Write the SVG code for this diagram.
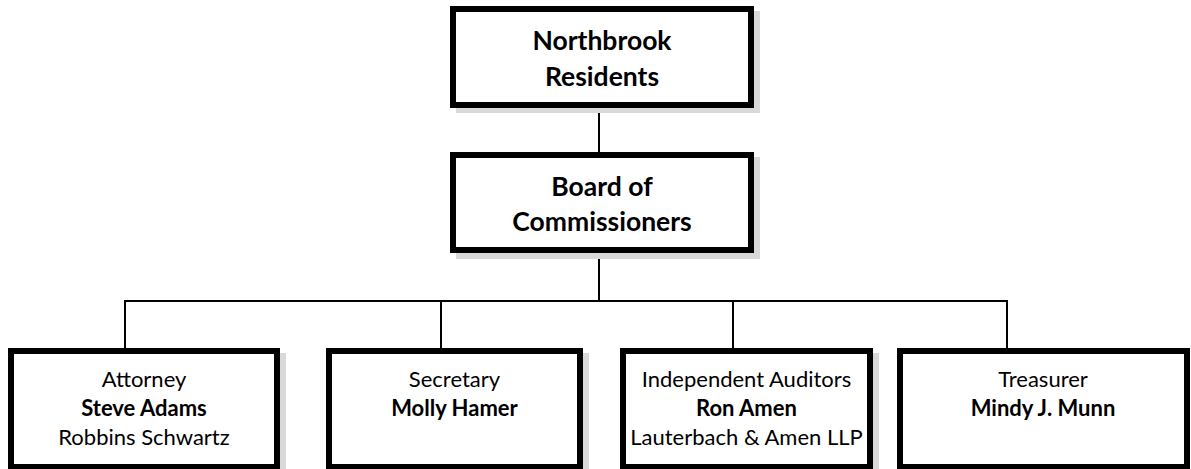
<svg xmlns="http://www.w3.org/2000/svg" width="1191" height="469" viewBox="0 0 1191 469">
<style>
.box{fill:#fff;stroke:#000;stroke-width:6}
.shadow{fill:#d9d9d9}
.conn{stroke:#000;stroke-width:2;fill:none}
text{font-family:Lato,"Open Sans","Liberation Sans",sans-serif;text-anchor:middle;fill:#000}
.t{font-size:26.5px;font-weight:bold}
.r{font-size:22px}
.b{font-size:22px;font-weight:bold}
</style>
<rect width="1191" height="469" fill="#fff"/>
<g id="connectors">
<line class="conn" x1="599" y1="108" x2="599" y2="152"/>
<line class="conn" x1="599" y1="253" x2="599" y2="301"/>
<line class="conn" x1="124" y1="301" x2="1008" y2="301"/>
<line class="conn" x1="125" y1="301" x2="125" y2="348"/>
<line class="conn" x1="441" y1="301" x2="441" y2="348"/>
<line class="conn" x1="733" y1="301" x2="733" y2="348"/>
<line class="conn" x1="1007" y1="301" x2="1007" y2="348"/>
</g>
<g id="residents">
<rect class="shadow" x="456" y="11" width="304" height="102"/>
<rect class="box" x="453" y="9" width="298" height="96"/>
<text class="t" x="602" y="50">Northbrook</text>
<text class="t" x="602" y="86">Residents</text>
</g>
<g id="board">
<rect class="shadow" x="456" y="157" width="304" height="102"/>
<rect class="box" x="453" y="155" width="298" height="95"/>
<text class="t" x="602" y="196">Board of</text>
<text class="t" x="602" y="231">Commissioners</text>
</g>
<g id="attorney">
<rect class="shadow" x="14" y="353" width="272" height="122"/>
<rect class="box" x="11" y="351" width="266" height="116"/>
<text class="r" x="144" y="387">Attorney</text>
<text class="b" x="144" y="416">Steve Adams</text>
<text class="r" x="144" y="445">Robbins Schwartz</text>
</g>
<g id="secretary">
<rect class="shadow" x="332" y="353" width="257" height="122"/>
<rect class="box" x="329" y="351" width="251" height="116"/>
<text class="r" x="454.5" y="387">Secretary</text>
<text class="b" x="454.5" y="416">Molly Hamer</text>
</g>
<g id="auditors">
<rect class="shadow" x="626" y="353" width="253" height="122"/>
<rect class="box" x="623" y="351" width="247" height="116"/>
<text class="r" x="746.5" y="387">Independent Auditors</text>
<text class="b" x="746.5" y="416">Ron Amen</text>
<text class="r" x="746.5" y="445">Lauterbach &amp; Amen LLP</text>
</g>
<g id="treasurer">
<rect class="box" x="900" y="351" width="287" height="116"/>
<text class="r" x="1043" y="387">Treasurer</text>
<text class="b" x="1043" y="416">Mindy J. Munn</text>
</g>
</svg>
